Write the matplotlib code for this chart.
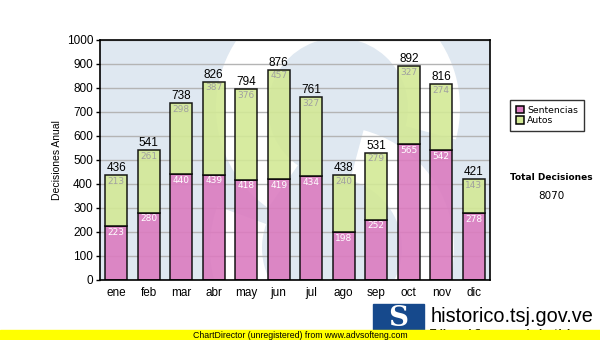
import matplotlib
matplotlib.use("Agg")
import matplotlib.pyplot as plt
from matplotlib.patches import Wedge, Rectangle
from matplotlib.transforms import Affine2D
import numpy as np

meses = ["ene", "feb", "mar", "abr", "may", "jun", "jul", "ago", "sep", "oct", "nov", "dic"]
sentencias = [223, 280, 440, 439, 418, 419, 434, 198, 252, 565, 542, 278]
autos = [213, 261, 298, 387, 376, 457, 327, 240, 279, 327, 274, 143]
yticks = [0, 100, 200, 300, 400, 500, 600, 700, 800, 900, 1000]

col_sent = "#db7cc0"
col_autos = "#d3e996"
fondo = "#dfe8f1"

totales = [s + a for s, a in zip(sentencias, autos)]
x = np.arange(len(meses))

fig = plt.figure(figsize=(6, 3.4), dpi=100)
ax = fig.add_axes([100/600, 1 - 280/340, 390/600, 240/340])
ax.set_facecolor(fondo)

# pixel coordinates (y up) for the background logo
px = Affine2D().scale(1/600, 1/340) + fig.transFigure
logo = [
    Wedge((338, 232), 122, -15, 235, width=52),   # upper bowl of the S
    Wedge((332, 92), 122, 160, 75, width=52),     # lower bowl of the S
]
for p in logo:
    p.set_transform(px)
    p.set_facecolor("white")
    p.set_edgecolor("none")
    p.set_zorder(0.5)
    p.set_clip_path(ax.patch)
    ax.add_artist(p)

ax.set_axisbelow(True)
ax.grid(axis="y", color="#b4b4b4", linewidth=1)

w = 0.68
ax.bar(x, sentencias, w, color=col_sent, edgecolor="black", linewidth=1.1,
       alpha=0.9, label="Sentencias", zorder=2)
ax.bar(x, autos, w, bottom=sentencias, color=col_autos, edgecolor="black",
       linewidth=1.1, alpha=0.9, label="Autos", zorder=2)

for i in range(len(meses)):
    ax.text(x[i], sentencias[i] - 7, str(sentencias[i]), ha="center", va="top",
            fontsize=6.5, color="white", zorder=3)
    ax.text(x[i], totales[i] - 7, str(autos[i]), ha="center", va="top",
            fontsize=6.5, color="#a0a0a0", zorder=3)
    ax.text(x[i], totales[i] + 4, str(totales[i]), ha="center", va="bottom",
            fontsize=8.5, family="Liberation Sans", color="black", zorder=3)

ax.set_xlim(-0.5, len(meses) - 0.5)
ax.set_ylim(0, 1000)
ax.set_yticks(yticks)
ax.set_xticks(x)
ax.set_xticklabels(meses, family="Liberation Sans", fontsize=8.5)
ax.set_yticklabels([str(v) for v in yticks], family="Liberation Sans", fontsize=8.5)
ax.tick_params(axis="y", length=3, width=1, pad=2)
ax.tick_params(axis="x", length=0, pad=5)
for s in ax.spines.values():
    s.set_linewidth(1.2)
ax.set_ylabel("Decisiones Anual", fontsize=7.5, family="Liberation Sans", labelpad=3)

leg = fig.legend(loc="upper left", bbox_to_anchor=(510/600, 1 - 100/340),
                 borderaxespad=0, fontsize=6.7, frameon=True, fancybox=False,
                 edgecolor="black", handlelength=0.9, handleheight=0.9,
                 handletextpad=0.35, borderpad=0.6, labelspacing=0.15)
leg.get_frame().set_linewidth(1)
for h in leg.legend_handles:
    h.set_alpha(1)

fig.text(551/600, 1 - 177/340, "Total Decisiones", ha="center", va="center",
         fontsize=6.5, fontweight="bold")
fig.text(551/600, 1 - 196/340, "8070", ha="center", va="center", fontsize=7.5)

# site logo and footer
fig.patches.append(Rectangle((373/600, 1 - 332/340), 51/600, 28/340,
                             transform=fig.transFigure, color="#16498c"))
fig.text(398/600, 1 - 318/340, "S", ha="center", va="center", fontsize=20,
         fontweight="bold", color="white", family="DejaVu Serif")
fig.text(431/600, 1 - 317/340, "historico.tsj.gov.ve", ha="left", va="center",
         fontsize=14.3, family="Liberation Sans", color="black")
fig.text(430/600, 1 - 334/340, "Tribunal Supremo de Justicia", ha="left", va="center",
         fontsize=6.5, fontweight="bold", color="black")
fig.patches.append(Rectangle((0, 0), 1, 10/340, transform=fig.transFigure,
                             color="#ffff00", zorder=5))
fig.text(0.5, 5/340, "ChartDirector (unregistered) from www.advsofteng.com",
         ha="center", va="center", fontsize=6.3, family="Liberation Sans",
         color="black", zorder=6)

fig.savefig("out.png", dpi=100)
